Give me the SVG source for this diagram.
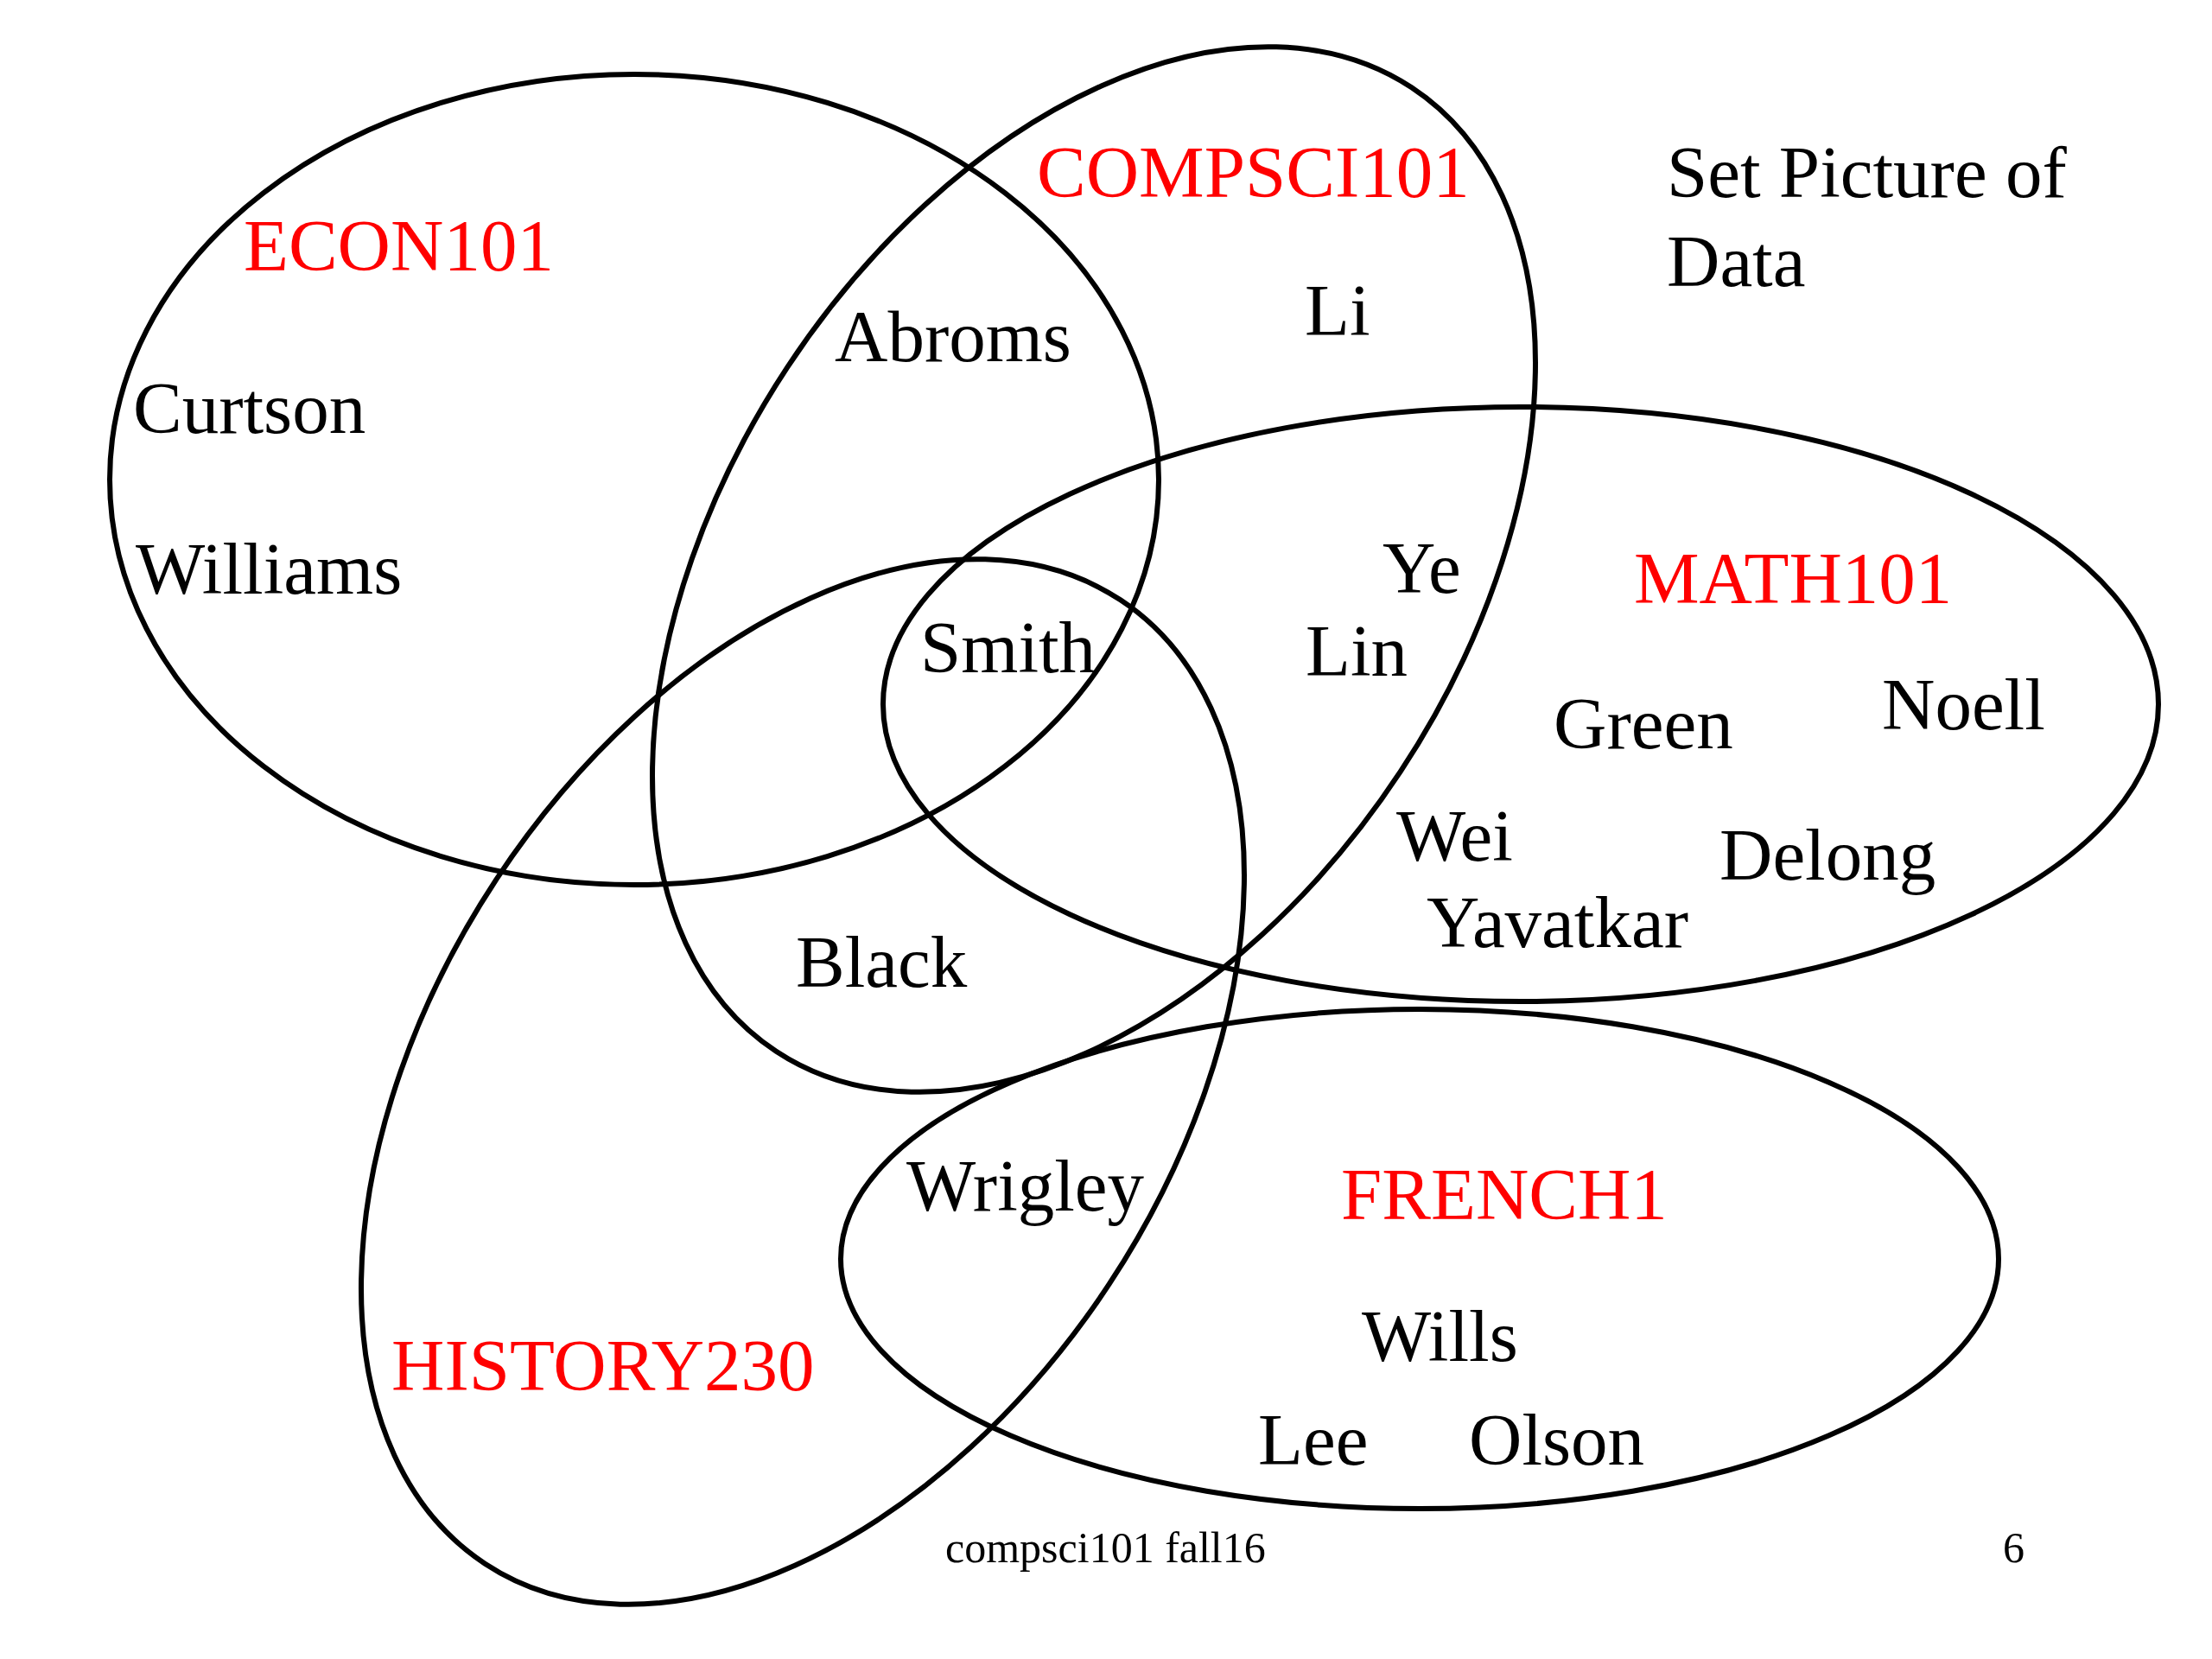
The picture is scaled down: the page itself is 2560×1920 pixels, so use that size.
<svg xmlns="http://www.w3.org/2000/svg" width="2560" height="1920" viewBox="0 0 2560 1920">
<style>
.set{fill:none;stroke:#000;stroke-width:6}
text{font-family:"Liberation Serif","Times New Roman",serif;font-size:85px;fill:#000}
.lbl{fill:#ff0000}
.foot{font-size:50px}
</style>
<rect width="2560" height="1920" fill="#fff"/>
<g id="econ101">
<ellipse class="set" cx="734" cy="555" rx="607" ry="469"/>
<text class="lbl" x="282" y="313">ECON101</text>
<text x="154" y="501">Curtson</text>
<text x="157" y="687">Williams</text>
</g>
<g id="compsci101">
<ellipse class="set" cx="0" cy="0" rx="668" ry="425" transform="translate(1266,659) rotate(-56.6)"/>
<text class="lbl" x="1200" y="228">COMPSCI101</text>
<text x="1510" y="388">Li</text>
</g>
<g id="math101">
<ellipse class="set" cx="1760" cy="815" rx="738" ry="344"/>
<text class="lbl" x="1891" y="698">MATH101</text>
</g>
<g id="history230">
<ellipse class="set" cx="0" cy="0" rx="668" ry="425" transform="translate(929,1252) rotate(-56.6)"/>
<text class="lbl" x="453" y="1609">HISTORY230</text>
</g>
<g id="french1">
<ellipse class="set" cx="1643" cy="1457" rx="670" ry="289"/>
<text class="lbl" x="1552" y="1411">FRENCH1</text>
<text x="1576" y="1575">Wills</text>
<text x="1456" y="1695">Lee</text>
<text x="1700" y="1695">Olson</text>
</g>
<g id="names">
<text x="966" y="418">Abroms</text>
<text x="1065" y="778">Smith</text>
<text x="1600" y="686">Ye</text>
<text x="1511" y="782">Lin</text>
<text x="1798" y="866">Green</text>
<text x="2178" y="844">Noell</text>
<text x="1616" y="996">Wei</text>
<text x="1990" y="1018">Delong</text>
<text x="1651" y="1096">Yavatkar</text>
<text x="921" y="1142">Black</text>
<text x="1049" y="1401">Wrigley</text>
</g>
<g id="title">
<text x="1929" y="228">Set Picture of</text>
<text x="1929" y="331">Data</text>
</g>
<g id="footer">
<text class="foot" x="1094" y="1808">compsci101 fall16</text>
<text class="foot" x="2318" y="1808">6</text>
</g>
<g id="connectors"></g>
</svg>
